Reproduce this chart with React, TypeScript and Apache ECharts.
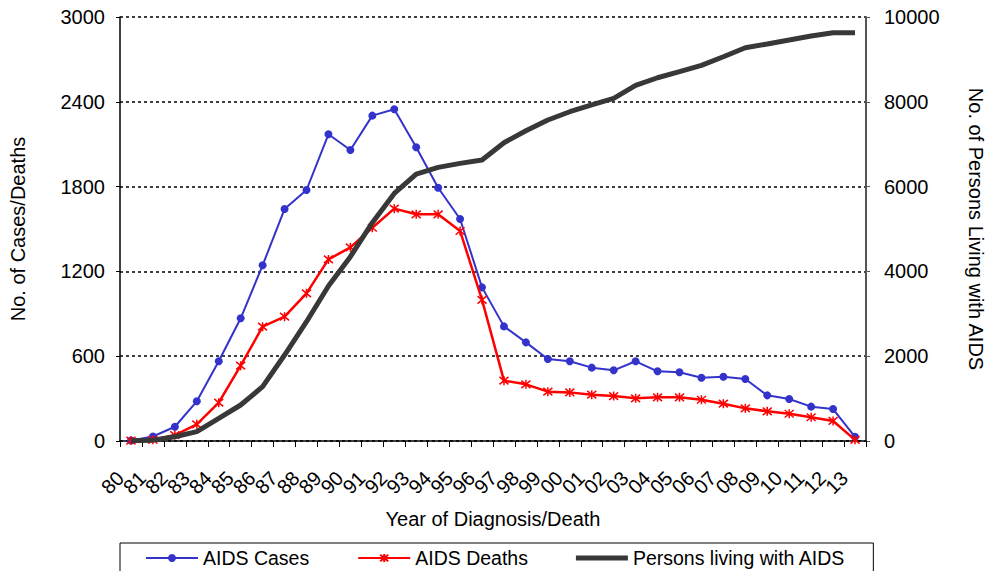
import React, { useEffect, useRef } from "react";
import * as echarts from "echarts";

const years = ["80","81","82","83","84","85","86","87","88","89","90","91","92","93","94","95","96","97","98","99","00","01","02","03","04","05","06","07","08","09","10","11","12","13"];

const aidsCases = [3,32,101,281,564,868,1243,1641,1776,2170,2059,2302,2347,2078,1792,1571,1087,811,698,580,564,519,500,564,493,486,448,455,439,323,297,243,226,30];

const aidsDeaths = [3,8,42,118,271,533,809,880,1045,1285,1370,1509,1644,1604,1604,1486,998,427,401,349,344,328,318,302,309,309,292,264,231,210,193,168,142,8];

const personsLiving = [5,20,101,220,535,849,1281,2028,2814,3655,4347,5148,5840,6296,6453,6548,6626,7035,7318,7570,7766,7925,8081,8387,8567,8710,8858,9063,9275,9363,9456,9550,9629,9629];

const leftTicks = { min: 0, max: 3000, interval: 600 };
const rightTicks = { min: 0, max: 10000, interval: 2000 };

const FONT = "'Liberation Sans', Arial, sans-serif";
const ASTERISK = "path://M0,0L10,10M10,0L0,10M5,-1L5,11";
const THICK_ICON = "path://M0,0L52,0L52,5L0,5Z";

export default function App() {
  const ref = useRef<HTMLDivElement>(null);
  useEffect(() => {
    if (!ref.current) return;
    const chart = echarts.init(ref.current, undefined, { renderer: "svg" });
    const textBase = { fontFamily: FONT, fontSize: 20, color: "#000" };
    const plain = (v: number) => String(v);
    chart.setOption({
      animation: false,
      backgroundColor: "#fff",
      textStyle: { fontFamily: FONT },
      grid: { left: 116, right: 120, top: 17, bottom: 130, containLabel: false },
      legend: {
        left: 120,
        top: 543,
        padding: [5, 28, 10, 25],
        itemGap: 48,
        itemWidth: 52,
        itemHeight: 10,
        borderColor: "#000",
        borderWidth: 1,
        textStyle: { ...textBase, fontSize: 19.5 },
        data: [
          { name: "AIDS Cases" },
          { name: "AIDS Deaths" },
          { name: "Persons living with AIDS", icon: THICK_ICON },
        ],
      },
      xAxis: {
        type: "category",
        data: years,
        boundaryGap: true,
        name: "Year of Diagnosis/Death",
        nameLocation: "middle",
        nameGap: 68,
        nameTextStyle: { ...textBase },
        axisLine: { lineStyle: { color: "#000", width: 1.5 } },
        axisTick: { show: true, length: 6, lineStyle: { color: "#000" } },
        axisLabel: { ...textBase, interval: 0, rotate: 45, margin: 23, padding: [0, 15, 0, 0] },
        splitLine: { show: false },
      },
      yAxis: [
        {
          type: "value",
          ...leftTicks,
          position: "left",
          name: "No. of Cases/Deaths",
          nameLocation: "middle",
          nameGap: 92,
          nameTextStyle: { ...textBase },
          axisLine: { show: true, lineStyle: { color: "#000", width: 1.5 } },
          axisTick: { show: true, length: 4, lineStyle: { color: "#000" } },
          axisLabel: { ...textBase, margin: 15, formatter: plain },
          splitLine: { show: true, lineStyle: { color: "#000", width: 1.5, type: [3, 3] } },
        },
        {
          type: "value",
          ...rightTicks,
          position: "right",
          name: "No. of Persons Living with AIDS",
          nameLocation: "middle",
          nameGap: 100,
          nameRotate: -90,
          nameTextStyle: { ...textBase },
          axisLine: { show: true, lineStyle: { color: "#555", width: 2 } },
          axisTick: { show: true, length: 4, lineStyle: { color: "#555" } },
          axisLabel: { ...textBase, margin: 18, formatter: plain },
          splitLine: { show: false },
        },
      ],
      series: [
        {
          name: "AIDS Cases",
          type: "line",
          data: aidsCases,
          yAxisIndex: 0,
          symbol: "circle",
          symbolSize: 8,
          lineStyle: { color: "#3333CC", width: 2 },
          itemStyle: { color: "#3333CC" },
          z: 3,
        },
        {
          name: "AIDS Deaths",
          type: "line",
          data: aidsDeaths,
          yAxisIndex: 0,
          symbol: ASTERISK,
          symbolSize: 9,
          lineStyle: { color: "#FF0000", width: 2.5 },
          itemStyle: { color: "#FF0000", borderColor: "#FF0000", borderWidth: 1.5 },
          z: 4,
        },
        {
          name: "Persons living with AIDS",
          type: "line",
          data: personsLiving,
          yAxisIndex: 1,
          symbol: "none",
          showSymbol: false,
          lineStyle: { color: "#383838", width: 5 },
          itemStyle: { color: "#383838" },
          z: 5,
        },
      ],
    });
    return () => chart.dispose();
  }, []);
  return (
    <div
      ref={ref}
      style={{ position: "fixed", left: 0, top: 0, width: 994, height: 571, background: "#fff" }}
    />
  );
}
